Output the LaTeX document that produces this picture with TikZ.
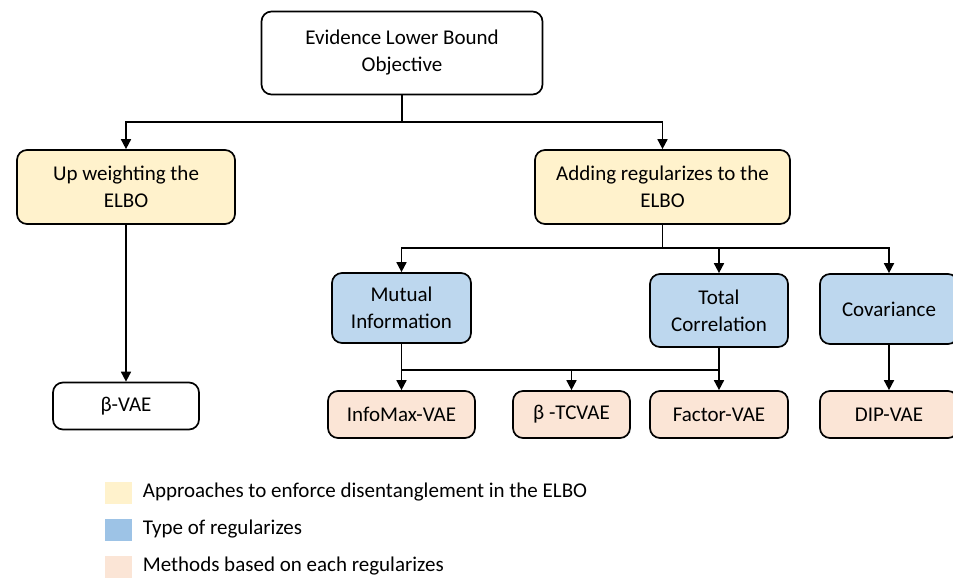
\documentclass[tikz,border=0pt]{standalone}
\usepackage{fontspec}
\setmainfont{Carlito}
\usepackage{tikz}
\usetikzlibrary{arrows.meta}
\definecolor{approach}{HTML}{FFF2CC}
\definecolor{regular}{HTML}{BDD7EE}
\definecolor{method}{HTML}{FBE5D6}
\definecolor{regkey}{HTML}{9DC3E6}

\begin{document}
\begin{tikzpicture}[
    x=1pt, y=-1pt,
    line width=1.7pt,
    >={Triangle[length=10pt,width=10pt]},
    font=\fontsize{21}{27}\selectfont,
    main node/.style={draw, rounded corners=10pt, align=center, inner sep=0pt, fill=white},
    approach node/.style={main node, fill=approach, minimum height=74pt},
    regular node/.style={main node, fill=regular},
    method node/.style={main node, fill=method, minimum height=47pt},
    key node/.style={inner sep=0pt, minimum width=27pt, minimum height=22pt}
    ]
    \useasboundingbox (0,0) rectangle (953,578);

    \node[main node, minimum width=281pt, minimum height=83pt] (1) at (402,53) {Evidence Lower Bound\\Objective};
    \node[approach node, minimum width=218pt] (2) at (126,187) {Up weighting the\\ELBO};
    \node[approach node, minimum width=255pt] (3) at (662.5,187) {Adding regularizes to the\\ELBO};
    \node[regular node, minimum width=139pt, minimum height=70pt] (4) at (401.5,308) {Mutual\\Information};
    \node[regular node, minimum width=138pt, minimum height=73pt] (5) at (719,310.5) {Total\\Correlation};
    \node[regular node, minimum width=138pt, minimum height=70pt] (6) at (889,309) {Covariance};
    \node[main node, minimum width=146pt, minimum height=47pt] (7) at (126,406) {β-VAE};
    \node[method node, minimum width=147pt] (8) at (401.5,414.5) {InfoMax-VAE};
    \node[method node, minimum width=117pt] (9) at (571.5,414.5) {β -TCVAE};
    \node[method node, minimum width=138pt] (10) at (719,414.5) {Factor-VAE};
    \node[method node, minimum width=138pt] (11) at (889,414.5) {DIP-VAE};

    \coordinate (j1) at (402,122);
    \coordinate (j2) at (662.5,248);
    \coordinate (j3) at (401.5,370);
    \coordinate (j4) at (719,370);

    \draw (1) -- (j1);
    \draw[->] (j1) -| (2);
    \draw[->] (j1) -| (3);
    \draw[->] (2) -- (7);
    \draw (3) -- (j2);
    \draw[->] (j2) -| (4);
    \draw[->] (j2) -| (5);
    \draw[->] (j2) -| (6);
    \draw[->] (4) -- (8);
    \draw[->] (5) -- (10);
    \draw (j3) -- (j4);
    \draw[->] (j3 -| 9) -- (9);
    \draw[->] (6) -- (11);

    % legend
    \node[key node, fill=approach] (k1) at (118.5,492.5) {};
    \node[key node, fill=regkey] (k2) at (118.5,529.5) {};
    \node[key node, fill=method] (k3) at (118.5,566.5) {};
    \node[anchor=west, inner sep=0pt] (t1) at (142,492.5) {Approaches to enforce disentanglement in the ELBO};
    \node[anchor=west, inner sep=0pt] (t2) at (142,529.5) {Type of regularizes};
    \node[anchor=west, inner sep=0pt] (t3) at (142,566.5) {Methods based on each regularizes};
\end{tikzpicture}
\end{document}
